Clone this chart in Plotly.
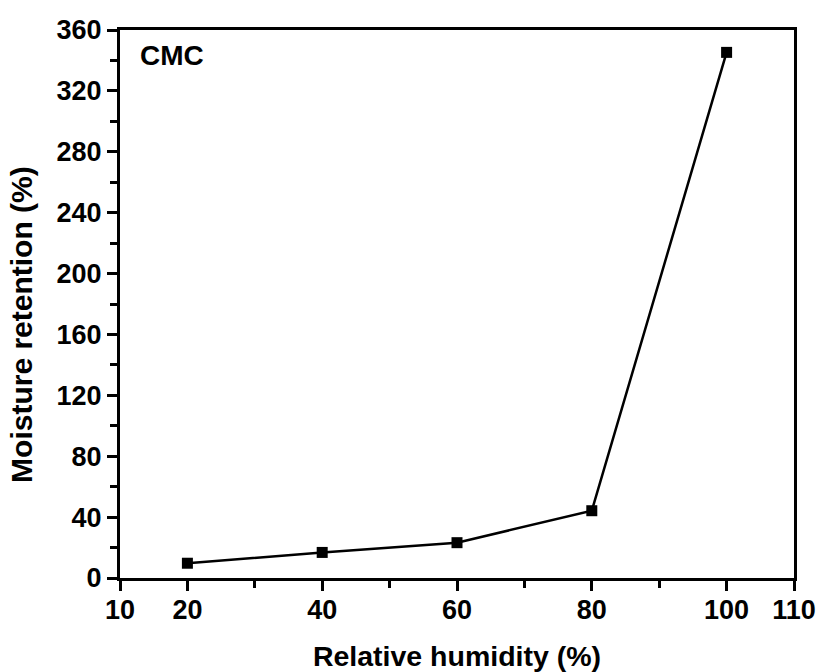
import plotly.graph_objects as go

humidity = [20, 40, 60, 80, 100]
retention = [9.7, 16.8, 23.2, 44.2, 345.3]

x_tickvals = [10, 20, 40, 60, 80, 100, 110]
x_minorvals = [30, 50, 70, 90]
y_tickvals = [0, 40, 80, 120, 160, 200, 240, 280, 320, 360]

FONT = "Liberation Sans, Arial, sans-serif"

fig = go.Figure()
fig.add_trace(go.Scatter(
    x=humidity, y=retention, mode="lines+markers",
    line=dict(color="black", width=2.5),
    marker=dict(symbol="square", size=11, color="black"),
    showlegend=False,
))

fig.update_layout(
    width=819, height=672,
    margin=dict(l=120, r=25, t=30, b=94),
    paper_bgcolor="white", plot_bgcolor="white",
    font=dict(family=FONT, size=27, color="black", weight="bold"),
    xaxis=dict(
        range=[10, 110], tickmode="array", tickvals=x_tickvals, automargin=False,
        ticks="outside", ticklen=10, tickwidth=2.5, tickcolor="black",
        ticklabelstandoff=-4,
        tickfont=dict(size=27, family=FONT, weight="bold"),
        showline=True, linecolor="black", linewidth=3, mirror=True,
        showgrid=False, zeroline=False,
        minor=dict(tickmode="array", tickvals=x_minorvals, ticks="outside", ticklen=7,
                   tickwidth=2.5, tickcolor="black", showgrid=False),
        title=dict(text="Relative humidity (%)", font=dict(size=28.5, family=FONT, weight="bold"), standoff=22),
    ),
    yaxis=dict(
        range=[0, 360], tickmode="array", tickvals=y_tickvals, automargin=False,
        ticks="outside", ticklen=10, tickwidth=2.5, tickcolor="black",
        tickfont=dict(size=27, family=FONT, weight="bold"),
        showline=True, linecolor="black", linewidth=3, mirror=True,
        showgrid=False, zeroline=False,
        minor=dict(dtick=20, ticks="outside", ticklen=7, tickwidth=2.5, tickcolor="black", showgrid=False),
    ),
    annotations=[
        dict(
            text="CMC", x=0.027, y=0.985, xref="paper", yref="paper",
            xanchor="left", yanchor="top", showarrow=False,
            font=dict(size=28, family=FONT, weight="bold"),
        ),
        dict(
            text="Moisture retention (%)", x=-0.147, y=0.4635, xref="paper", yref="paper",
            xanchor="center", yanchor="middle", textangle=-90, showarrow=False,
            font=dict(size=30, family=FONT, weight="bold"),
        ),
    ],
)
fig.write_html("out.html")
